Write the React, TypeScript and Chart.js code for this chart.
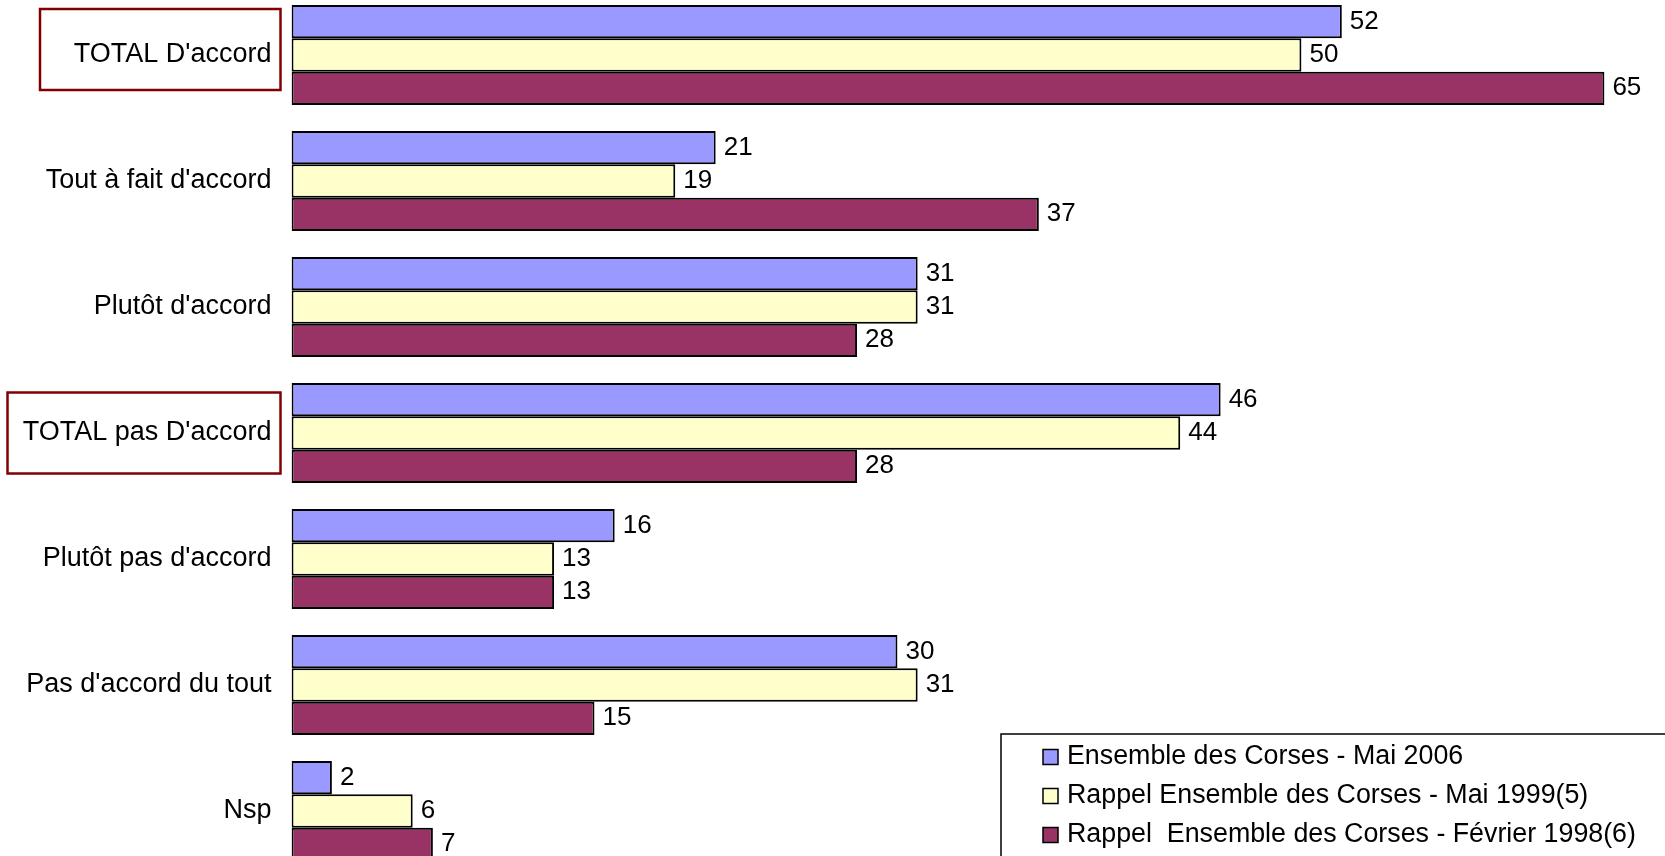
import React, { useEffect, useRef } from "react";
import { Chart, registerables } from "chart.js";

Chart.register(...registerables);

const categories = [
  "TOTAL D'accord",
  "Tout à fait d'accord",
  "Plutôt d'accord",
  "TOTAL pas D'accord",
  "Plutôt pas d'accord",
  "Pas d'accord du tout",
  "Nsp",
];

const seriesNames = [
  "Ensemble des Corses - Mai 2006",
  "Rappel Ensemble des Corses - Mai 1999(5)",
  "Rappel  Ensemble des Corses - Février 1998(6)",
];

const mai2006 = [52, 21, 31, 46, 16, 30, 2];
const mai1999 = [50, 19, 31, 44, 13, 31, 6];
const fev1998 = [65, 37, 28, 28, 13, 15, 7];

const colors = ["#9999FF", "#FFFFCC", "#993366"];

const FONT = "'Liberation Sans', Arial, sans-serif";

const valueLabels = {
  id: "valueLabels",
  afterDatasetsDraw(chart: any) {
    const ctx = chart.ctx;
    ctx.save();
    ctx.font = `26px ${FONT}`;
    ctx.fillStyle = "#000";
    ctx.textAlign = "left";
    ctx.textBaseline = "middle";
    chart.data.datasets.forEach((ds: any, di: number) => {
      const meta = chart.getDatasetMeta(di);
      meta.data.forEach((el: any, i: number) => {
        ctx.fillText(String(ds.data[i]), el.x + 8, el.y);
      });
    });
    ctx.restore();
  },
};

const highlightBoxes = {
  id: "highlightBoxes",
  afterDraw(chart: any) {
    const ctx = chart.ctx;
    const yScale = chart.scales.y;
    const boxes = [
      { index: 0, left: 40, dy: -5.5 },
      { index: 3, left: 7.5, dy: 0 },
    ];
    ctx.save();
    ctx.strokeStyle = "#800000";
    ctx.lineWidth = 2.5;
    boxes.forEach((b) => {
      const cy = yScale.getPixelForValue(b.index) + b.dy;
      const right = chart.chartArea.left - 11;
      ctx.strokeRect(b.left, cy - 40.5, right - b.left, 81);
    });
    ctx.restore();
  },
};

const boxLegend = {
  id: "boxLegend",
  afterDraw(chart: any) {
    const ctx = chart.ctx;
    const left = 1001;
    const top = 742;
    ctx.save();
    ctx.fillStyle = "#fff";
    ctx.fillRect(left, top, chart.width - left + 10, chart.height - top + 10);
    ctx.strokeStyle = "#000";
    ctx.lineWidth = 1.5;
    ctx.strokeRect(left, top, chart.width - left + 10, chart.height - top + 10);
    ctx.font = `26.8px ${FONT}`;
    ctx.textAlign = "left";
    ctx.textBaseline = "middle";
    chart.data.datasets.forEach((ds: any, i: number) => {
      const cy = 765 + i * 39;
      ctx.fillStyle = ds.backgroundColor;
      ctx.fillRect(1043, cy - 7.5, 15, 15);
      ctx.strokeStyle = "#000";
      ctx.lineWidth = 1.5;
      ctx.strokeRect(1043, cy - 7.5, 15, 15);
      ctx.fillStyle = "#000";
      ctx.fillText(ds.label, 1067, cy);
    });
    ctx.restore();
  },
};

export default function App() {
  const ref = useRef<HTMLCanvasElement>(null);

  useEffect(() => {
    if (!ref.current) return;
    const chart = new Chart(ref.current, {
      type: "bar",
      data: {
        labels: categories,
        datasets: [mai2006, mai1999, fev1998].map((d, i) => ({
          label: seriesNames[i],
          data: d,
          backgroundColor: colors[i],
          borderColor: "#000",
          borderWidth: 2,
          borderSkipped: false,
          categoryPercentage: 0.792,
          barPercentage: 1,
        })),
      },
      options: {
        indexAxis: "y",
        animation: false,
        responsive: false,
        devicePixelRatio: 1,
        layout: { padding: 0 },
        plugins: {
          legend: { display: false },
          tooltip: { enabled: false },
        },
        scales: {
          x: {
            display: false,
            min: 0,
            max: 68,
          },
          y: {
            grid: { display: false, drawTicks: false },
            border: { display: false },
            ticks: {
              color: "#000",
              padding: 20,
              font: { family: FONT, size: 27 },
            },
            afterFit(scale: any) {
              scale.width = 291.5;
              scale.paddingTop = 0;
              scale.paddingBottom = 0;
            },
          },
        },
      },
      plugins: [valueLabels, highlightBoxes, boxLegend],
    });
    return () => chart.destroy();
  }, []);

  return (
    <div style={{ position: "absolute", left: 0, top: -8, width: 1665, height: 882, background: "#fff" }}>
      <canvas ref={ref} width={1665} height={882} style={{ display: "block" }} />
    </div>
  );
}
